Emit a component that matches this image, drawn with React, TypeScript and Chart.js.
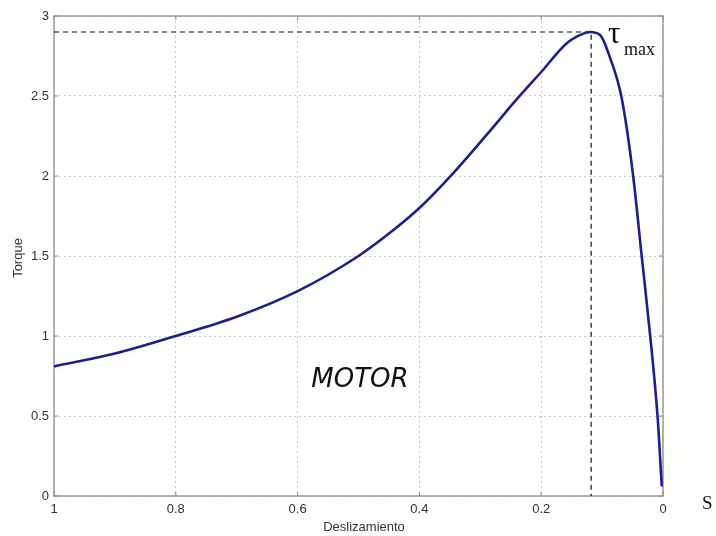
import React, { useEffect, useRef } from "react";
import { Chart, registerables } from "chart.js";

Chart.register(...registerables);

// Slip (deslizamiento) values (descending)
const slip = [1, 0.9, 0.8, 0.7, 0.6, 0.5, 0.45, 0.4, 0.344, 0.289, 0.24, 0.2, 0.158, 0.131, 0.12, 0.103, 0.087, 0.068, 0.049, 0.035, 0.021, 0.009, 0.002];
// Torque values at those slips
const torque = [0.81, 0.89, 1.0, 1.12, 1.28, 1.5, 1.64, 1.8, 2.02, 2.26, 2.48, 2.65, 2.83, 2.89, 2.9, 2.88, 2.74, 2.49, 2.0, 1.5, 1.0, 0.5, 0.06];

// Maximum torque marker
const tauMax = 2.9;
const slipAtMax = 0.118;

const xTicks = [1, 0.8, 0.6, 0.4, 0.2, 0];
const yTicks = [0, 0.5, 1, 1.5, 2, 2.5, 3];

const xTitle = "Deslizamiento";
const yTitle = "Torque";
const motorLabel = "MOTOR";
const tauLabel = "τ";
const tauSub = "max";
const sLabel = "S";

export default function App() {
  const ref = useRef<HTMLCanvasElement | null>(null);

  useEffect(() => {
    if (!ref.current) return;

    const frame = {
      id: "frame",
      beforeDatasetsDraw(chart: any) {
        const { ctx, chartArea: a, scales } = chart;
        ctx.save();
        ctx.strokeStyle = "#9a9a9a";
        ctx.lineWidth = 1.5;
        ctx.strokeRect(a.left, a.top, a.right - a.left, a.bottom - a.top);
        ctx.lineWidth = 1;
        ctx.strokeStyle = "#8a8a8a";
        const tl = 4;
        xTicks.forEach((v) => {
          const px = scales.x.getPixelForValue(v);
          ctx.beginPath();
          ctx.moveTo(px, a.bottom);
          ctx.lineTo(px, a.bottom - tl);
          ctx.moveTo(px, a.top);
          ctx.lineTo(px, a.top + tl);
          ctx.stroke();
        });
        yTicks.forEach((v) => {
          const py = scales.y.getPixelForValue(v);
          ctx.beginPath();
          ctx.moveTo(a.left, py);
          ctx.lineTo(a.left + tl, py);
          ctx.moveTo(a.right, py);
          ctx.lineTo(a.right - tl, py);
          ctx.stroke();
        });
        ctx.restore();
      },
      afterDraw(chart: any) {
        const { ctx } = chart;
        ctx.save();
        ctx.fillStyle = "#333";
        ctx.font = "13px 'Liberation Sans', Arial, sans-serif";
        ctx.textAlign = "center";
        ctx.textBaseline = "middle";
        ctx.fillText(xTitle, 364, 527);
        ctx.save();
        ctx.translate(18, 258);
        ctx.rotate(-Math.PI / 2);
        ctx.fillText(yTitle, 0, 0);
        ctx.restore();

        ctx.fillStyle = "#111";
        ctx.textBaseline = "alphabetic";
        ctx.font = "italic 26px 'DejaVu Sans', sans-serif";
        ctx.fillText(motorLabel, 360, 387);

        ctx.textAlign = "left";
        ctx.font = "31px 'Liberation Serif', 'DejaVu Serif', serif";
        ctx.fillText(tauLabel, 608, 43);
        ctx.font = "18px 'Liberation Serif', 'DejaVu Serif', serif";
        ctx.fillText(tauSub, 624, 55);
        ctx.font = "19px 'Liberation Serif', 'DejaVu Serif', serif";
        ctx.fillText(sLabel, 702, 509);
        ctx.restore();
      },
    };

    const chart = new Chart(ref.current, {
      type: "line",
      data: {
        datasets: [
          {
            data: slip.map((s, i) => ({ x: s, y: torque[i] })),
            borderColor: "#1e1e8c",
            borderWidth: 2.6,
            pointRadius: 0,
            cubicInterpolationMode: "monotone",
            fill: false,
          },
          {
            data: [
              { x: 1, y: tauMax },
              { x: slipAtMax, y: tauMax },
              { x: slipAtMax, y: 0 },
            ],
            borderColor: "#111",
            borderWidth: 1.2,
            borderDash: [5, 4],
            pointRadius: 0,
            tension: 0,
            fill: false,
          },
        ],
      },
      options: {
        animation: false,
        responsive: false,
        maintainAspectRatio: false,
        layout: { padding: { top: 16, right: 53, left: 0, bottom: 0 } },
        plugins: { legend: { display: false }, tooltip: { enabled: false } },
        scales: {
          x: {
            type: "linear",
            min: 0,
            max: 1,
            reverse: true,
            afterFit: (s: any) => {
              s.height = 40;
            },
            afterBuildTicks: (s: any) => {
              s.ticks = xTicks.map((v) => ({ value: v }));
            },
            ticks: {
              color: "#333",
              padding: 6,
              font: { size: 13, family: "'Liberation Sans', Arial, sans-serif" },
              callback: (v: any) => String(+Number(v).toFixed(1)),
              maxRotation: 0,
            },
            grid: { color: "#c8c8c8", lineWidth: 1, drawTicks: false },
            border: { display: false, dash: [2, 3] },
          },
          y: {
            type: "linear",
            min: 0,
            max: 3,
            afterFit: (s: any) => {
              s.width = 54;
            },
            afterBuildTicks: (s: any) => {
              s.ticks = yTicks.map((v) => ({ value: v }));
            },
            ticks: {
              color: "#333",
              padding: 5,
              font: { size: 13, family: "'Liberation Sans', Arial, sans-serif" },
              callback: (v: any) => String(+Number(v).toFixed(1)),
            },
            grid: { color: "#c8c8c8", lineWidth: 1, drawTicks: false },
            border: { display: false, dash: [2, 3] },
          },
        },
      },
      plugins: [frame],
    } as any);

    return () => chart.destroy();
  }, []);

  return (
    <div style={{ position: "absolute", left: 0, top: 0, width: 716, height: 536, background: "#fff" }}>
      <canvas ref={ref} width={716} height={536} style={{ display: "block" }} />
    </div>
  );
}
